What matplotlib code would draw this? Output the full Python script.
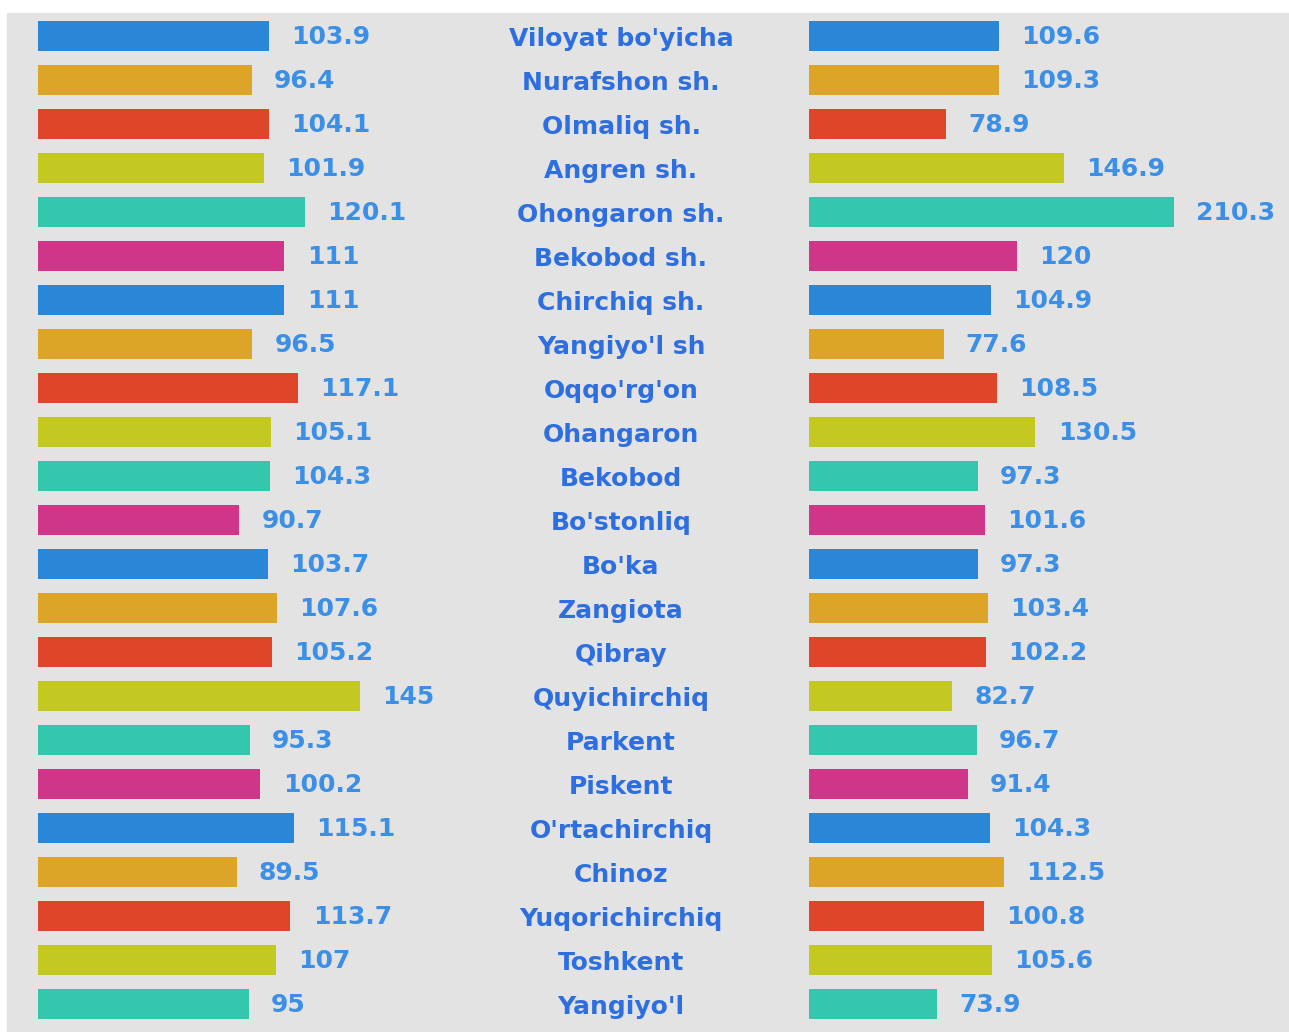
import matplotlib
matplotlib.use("Agg")
import matplotlib.pyplot as plt
from matplotlib.patches import Rectangle
from matplotlib.transforms import blended_transform_factory

# ========================== Data ==========================
districts = ["Viloyat bo'yicha", "Nurafshon sh.", "Olmaliq sh.", "Angren sh.",
             "Ohongaron sh.", "Bekobod sh.", "Chirchiq sh.", "Yangiyo'l sh",
             "Oqqo'rg'on", "Ohangaron", "Bekobod", "Bo'stonliq", "Bo'ka",
             "Zangiota", "Qibray", "Quyichirchiq", "Parkent", "Piskent",
             "O'rtachirchiq", "Chinoz", "Yuqorichirchiq", "Toshkent", "Yangiyo'l"]
left_vals = [103.9, 96.4, 104.1, 101.9, 120.1, 111, 111, 96.5, 117.1, 105.1,
             104.3, 90.7, 103.7, 107.6, 105.2, 145, 95.3, 100.2, 115.1, 89.5,
             113.7, 107, 95]
right_vals = [109.6, 109.3, 78.9, 146.9, 210.3, 120, 104.9, 77.6, 108.5, 130.5,
              97.3, 101.6, 97.3, 103.4, 102.2, 82.7, 96.7, 91.4, 104.3, 112.5,
              100.8, 105.6, 73.9]
palette = ["#2a86d6", "#dca528", "#df4528", "#c3c920", "#35c7ae", "#cf3689"]

# ========================== Settings ==========================
W, H = 1289, 1032
BG = "#e3e3e3"
VAL_COLOR = "#3b8fe6"
CAT_COLOR = "#2d6fe0"
FS = 18

fig = plt.figure(figsize=(W / 100, H / 100), dpi=100)
fig.patches.append(Rectangle((7 / W, 0), 1 - 7 / W, 1 - 13 / H,
                             transform=fig.transFigure, color=BG, zorder=-10))

ax_h = (H - 13) / H
row_px = 44.0
top = -23 / row_px
ylim = (top + (H - 13) / row_px, top)

ax_l = fig.add_axes([38 / W, 0, 440 / W, ax_h])
ax_r = fig.add_axes([809 / W, 0, 480 / W, ax_h])

rows = list(range(len(districts)))
colors = [palette[i % len(palette)] for i in rows]

for ax, vals, xmax in [(ax_l, left_vals, 440 / 2.22), (ax_r, right_vals, 480 / 1.735)]:
    ax.barh(rows, vals, height=0.7, color=colors)
    for y, v in zip(rows, vals):
        ax.annotate(f"{v:g}", (v, y), xytext=(16, -1), textcoords="offset points",
                    ha="left", va="center", fontsize=FS, fontweight="bold",
                    color=VAL_COLOR)
    ax.set_xlim(0, xmax)
    ax.set_ylim(*ylim)
    ax.axis("off")

# district names in the middle column
trans = blended_transform_factory(fig.transFigure, ax_l.transData)
for y, name in zip(rows, districts):
    ax_l.text(621 / W, y + 0.06, name, transform=trans, ha="center", va="center",
              fontsize=FS, fontweight="bold", color=CAT_COLOR)

fig.savefig("out.png", dpi=100)
